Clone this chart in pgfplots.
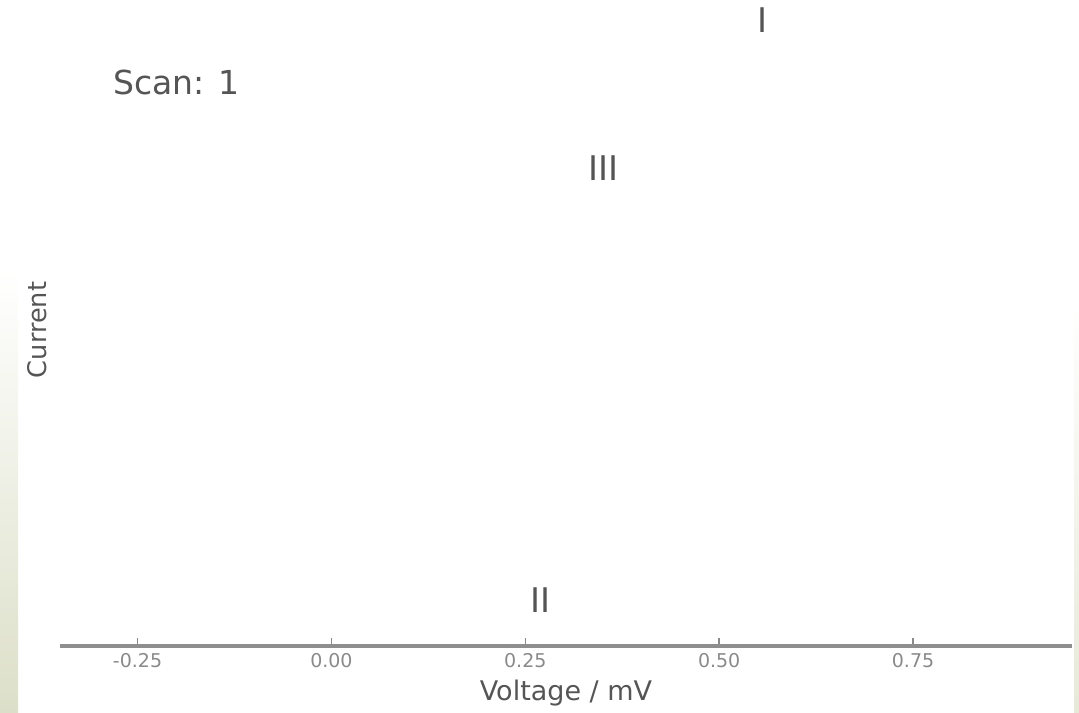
\documentclass[border=0pt]{standalone}
\usepackage{pgfplots}
\pgfplotsset{compat=1.18}
\usepackage{fontspec}
\setmainfont{DejaVu Sans}
\definecolor{axgray}{HTML}{8E8E8E}
\definecolor{txtgray}{HTML}{555555}
\definecolor{tickgray}{HTML}{8A8A8A}
\definecolor{stripgreen}{HTML}{DCDFC8}
\begin{document}
\begin{tikzpicture}
\path[use as bounding box] (0,0) rectangle (539.5pt,356pt);
\shade[top color=white, bottom color=stripgreen] (0,0) rectangle (9pt,221pt);
\shade[top color=white, bottom color=stripgreen!70!white] (537pt,0) rectangle (539.5pt,206pt);
\begin{axis}[
  at={(30pt,33pt)}, anchor=south west,
  scale only axis, width=506pt, height=323pt,
  xmin=-0.35, xmax=0.955, ymin=0, ymax=1,
  axis x line*=bottom, axis y line=none,
  axis line style={axgray, line width=1.8pt},
  xtick={-0.25,0,0.25,0.5,0.75},
  xticklabels={-0.25,0.00,0.25,0.50,0.75},
  tick align=inside, major tick length=4pt,
  tick style={tickgray, line width=0.8pt},
  xticklabel style={font=\fontsize{9.5}{11}\selectfont, text=tickgray},
  xlabel={Voltage / mV},
  xlabel style={font=\fontsize{13.5}{16}\selectfont, text=txtgray, yshift=0.5pt},
  ylabel={Current},
  clip=false,
]
\addplot[draw=none, mark=none, nodes near coords, point meta=explicit symbolic,
  nodes near coords align=center,
  every node near coord/.append style={font=\fontsize{17}{20}\selectfont, text=txtgray, anchor=center}]
  table[meta=label] {
x y label
0.556 0.969 I
0.351 0.740 III
0.269 0.071 II
};
\node[font=\fontsize{16.5}{20}\selectfont, text=txtgray] at (axis cs:-0.200,0.873) {Scan: 1};
\end{axis}
\node[rotate=90, font=\fontsize{12.8}{15}\selectfont, text=txtgray] at (18.5pt,191pt) {Current};
\end{tikzpicture}
\end{document}
